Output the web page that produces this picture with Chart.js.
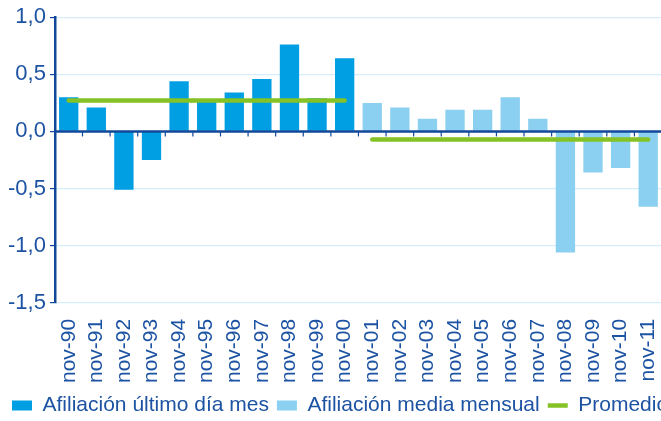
<!DOCTYPE html>
<html>
<head>
<meta charset="utf-8">
<script src="https://cdn.jsdelivr.net/npm/chart.js@4"></script>
<style>
  html, body { margin: 0; padding: 0; background: #fff; overflow: hidden; }
  #wrap { width: 692px; height: 421px; }
</style>
</head>
<body>
<div id="wrap"><canvas id="myChart"></canvas></div>
<script>
const meses = ["nov-90", "nov-91", "nov-92", "nov-93", "nov-94", "nov-95", "nov-96", "nov-97",
	"nov-98", "nov-99", "nov-00", "nov-01", "nov-02", "nov-03", "nov-04", "nov-05",
	"nov-06", "nov-07", "nov-08", "nov-09", "nov-10", "nov-11"];

const ultimoDia = [0.30, 0.21, -0.51, -0.25, 0.44, 0.26, 0.34, 0.46, 0.76, 0.29, 0.64,
	null, null, null, null, null, null, null, null, null, null, null];

const mediaMensual = [null, null, null, null, null, null, null, null, null, null, null,
	0.25, 0.21, 0.11, 0.19, 0.19, 0.30, 0.11, -1.06, -0.36, -0.32, -0.66];

const promedio = [0.27, 0.27, 0.27, 0.27, 0.27, 0.27, 0.27, 0.27, 0.27, 0.27, 0.27,
	-0.07, -0.07, -0.07, -0.07, -0.07, -0.07, -0.07, -0.07, -0.07, -0.07, -0.07];

const azulTexto = "#1d53a3";
const azulEje = "#12489a";
const verde = "#84c225";

Chart.defaults.font.family = "'Liberation Sans', Arial, sans-serif";
Chart.defaults.color = azulTexto;

// zero line over the bars, with small ticks between categories
const ejeCero = {
	id: "ejeCero",
	afterDatasetsDraw(chart) {
		const { ctx, chartArea, scales } = chart;
		const y0 = scales.y.getPixelForValue(0);
		ctx.save();
		ctx.strokeStyle = azulEje;
		ctx.lineWidth = 2.5;
		ctx.beginPath();
		ctx.moveTo(chartArea.left, y0);
		ctx.lineTo(chartArea.right, y0);
		ctx.stroke();
		ctx.lineWidth = 1.2;
		for (let i = 0; i < meses.length - 1; i++) {
			const x = (scales.x.getPixelForValue(i) + scales.x.getPixelForValue(i + 1)) / 2;
			ctx.beginPath();
			ctx.moveTo(x, y0);
			ctx.lineTo(x, y0 + 5);
			ctx.stroke();
		}
		ctx.restore();
	}
};

new Chart(document.getElementById("myChart"), {
	data: {
		labels: meses,
		datasets: [
			{
				type: "bar",
				label: "Afiliación último día mes",
				data: ultimoDia,
				backgroundColor: "#009ee2",
				pointStyle: "rect",
				order: 1
			},
			{
				type: "bar",
				label: "Afiliación media mensual",
				data: mediaMensual,
				backgroundColor: "#8bd0f1",
				pointStyle: "rect",
				order: 2
			},
			{
				type: "line",
				label: "Promedio",
				data: promedio,
				borderColor: verde,
				backgroundColor: verde,
				borderWidth: 4.5,
				borderCapStyle: "round",
				pointRadius: 0,
				pointStyle: "line",
				order: 0,
				segment: {
					borderColor: (c) => (c.p0DataIndex === 10 ? "transparent" : verde)
				}
			}
		]
	},
	options: {
		responsive: true,
		maintainAspectRatio: false,
		animation: false,
		layout: {
			padding: { top: 15, left: 4, right: 0, bottom: -5 }
		},
		datasets: {
			bar: {
				grouped: false,
				barPercentage: 0.7,
				categoryPercentage: 1
			}
		},
		plugins: {
			tooltip: { enabled: false },
			legend: {
				position: "bottom",
				align: "start",
				labels: {
					usePointStyle: true,
					pointStyleWidth: 20,
					boxHeight: 10,
					padding: 8,
					color: azulTexto,
					font: { size: 21 },
					sort: (a, b) => a.datasetIndex - b.datasetIndex
				}
			}
		},
		scales: {
			x: {
				offset: true,
				border: { display: false },
				grid: { display: false, drawTicks: false },
				ticks: {
					minRotation: 90,
					maxRotation: 90,
					padding: 16,
					autoSkip: false,
					color: azulTexto,
					font: { size: 21 }
				},
				// labels run down into the gap above the legend
				afterFit: (s) => { s.height -= 12; }
			},
			y: {
				min: -1.5,
				max: 1.0,
				border: { color: azulEje, width: 2.5 },
				grid: {
					color: "#d4edf9",
					lineWidth: 1.2,
					tickColor: azulEje,
					tickLength: 5
				},
				ticks: {
					stepSize: 0.5,
					padding: 4,
					color: azulTexto,
					font: { size: 22 },
					callback: (v) => v.toFixed(1).replace(".", ",")
				}
			},
			// empty axis on the right: keeps the plot inside the window while the legend runs past it
			margen: {
				type: "linear",
				position: "right",
				display: true,
				border: { display: false },
				grid: { display: false, drawTicks: false },
				ticks: { display: false },
				afterFit: (s) => { s.width = 30; }
			}
		}
	},
	plugins: [ejeCero]
});
</script>
</body>
</html>
